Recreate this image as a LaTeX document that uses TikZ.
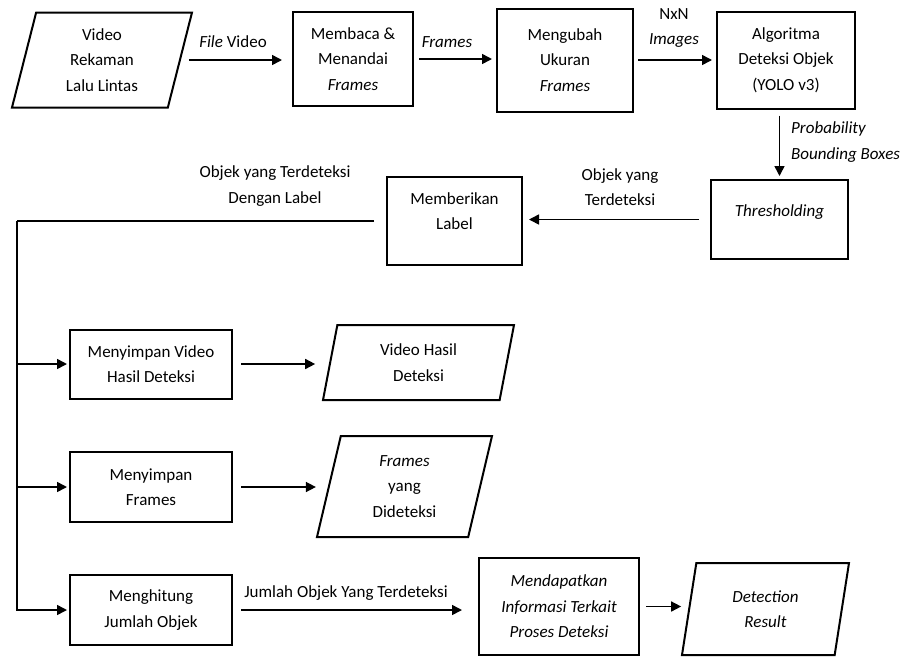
\documentclass[tikz,border=0pt]{standalone}
\usepackage{fontspec}
\setmainfont{Carlito}
\usetikzlibrary{arrows.meta,shapes.geometric}

\begin{document}
\begin{tikzpicture}[x=1pt,y=-1pt,
    every node/.style={font=\fontsize{17}{25.5}\selectfont, align=center, inner sep=0pt},
    box/.style={draw, line width=2pt, rectangle},
    io/.style={draw, line width=2pt, trapezium, trapezium left angle=69,
               trapezium right angle=111, trapezium stretches body},
    flow/.style={line width=1.6pt, -{Triangle[length=10pt,width=10pt]}},
    wire/.style={line width=1.6pt}]

    \useasboundingbox (0,0) rectangle (916,657);

    % baris atas
    \node[io, minimum width=180pt, minimum height=95pt] (vid) at (102,60) {Video\\Rekaman\\Lalu Lintas};
    \node[box, minimum width=120pt, minimum height=94pt] (baca) at (353,59) {Membaca \&\\Menandai\\\textit{Frames}};
    \node[box, minimum width=136pt, minimum height=103pt] (ubah) at (565,60) {Mengubah\\Ukuran\\\textit{Frames}};
    \node[box, minimum width=138pt, minimum height=97pt] (yolo) at (786,60) {Algoritma\\Deteksi Objek\\(YOLO v3)};

    \node[box, minimum width=137pt, minimum height=79pt, text depth=18pt] (thr) at (779.5,219.5) {\textit{Thresholding}};
    \node[box, minimum width=135pt, minimum height=88pt, text depth=20pt] (mlab) at (454.5,221) {Memberikan\\Label};

    \draw[flow, shorten <=8pt, shorten >=10pt] (vid.east) -- (vid.east -| baca.west);
    \draw[flow, shorten <=5pt, shorten >=4pt] (baca.east) -- (baca.east -| ubah.west);
    \draw[flow, shorten <=4pt, shorten >=4pt] (ubah.east |- yolo.west) -- (yolo.west);
    \draw[flow, shorten <=6pt, shorten >=3pt] (yolo.south -| thr.north) -- (thr.north);
    \draw[flow, shorten <=11pt, shorten >=6pt] (thr.west) -- (thr.west -| mlab.east);

    \node (lfile) at (233,42) {\textit{File} Video};
    \node (lfrm) at (447,42) {\textit{Frames}};
    \node (lnxn) at (674,28) {NxN\\\textit{Images}};
    \node[align=left, anchor=west] (lprob) at (791,142) {\textit{Probability}\\\textit{Bounding Boxes}};
    \node (lobj) at (620,187) {Objek yang\\Terdeteksi};
    \node (llab) at (275,186) {Objek yang Terdeteksi\\Dengan Label};

    % cabang bawah
    \node[box, minimum width=162pt, minimum height=69pt] (simvid) at (151,364) {Menyimpan Video\\Hasil Deteksi};
    \node[io, minimum width=191pt, minimum height=75pt] (vhasil) at (418.5,362.5) {Video Hasil\\Deteksi};
    \node[box, minimum width=162pt, minimum height=70pt] (simfr) at (151,487) {Menyimpan\\Frames};
    \node[io, minimum width=175pt, minimum height=101pt] (fdet) at (404.5,486.5) {\textit{Frames}\\yang\\Dideteksi};
    \node[box, minimum width=162pt, minimum height=70pt] (hitung) at (151,610) {Menghitung\\Jumlah Objek};
    \node[box, minimum width=160pt, minimum height=97pt] (info) at (559,606.5) {\textit{Mendapatkan}\\\textit{Informasi Terkait}\\\textit{Proses Deteksi}};
    \node[io, minimum width=167pt, minimum height=92pt] (res) at (765.5,609) {\textit{Detection}\\\textit{Result}};

    \coordinate (trunk) at (17,221);
    \draw[wire, shorten <=12pt] (mlab.west) -- (trunk);
    \draw[flow, shorten >=2pt] (trunk) |- (hitung.west);
    \draw[flow, shorten >=2pt] (trunk |- simvid.west) -- (simvid.west);
    \draw[flow, shorten >=2pt] (trunk |- simfr.west) -- (simfr.west);

    \draw[flow, shorten <=8pt, shorten >=14pt] (simvid.east) -- (simvid.east -| vhasil.west);
    \draw[flow, shorten <=8pt, shorten >=12pt] (simfr.east) -- (simfr.east -| fdet.west);
    \draw[flow, shorten <=8pt, shorten >=16pt] (hitung.east) -- (hitung.east -| info.west);
    \draw[flow, shorten <=6pt, shorten >=7pt] (info.east) -- (info.east -| res.west);

    \node (ljml) at (346,593) {Jumlah Objek Yang Terdeteksi};

\end{tikzpicture}
\end{document}
